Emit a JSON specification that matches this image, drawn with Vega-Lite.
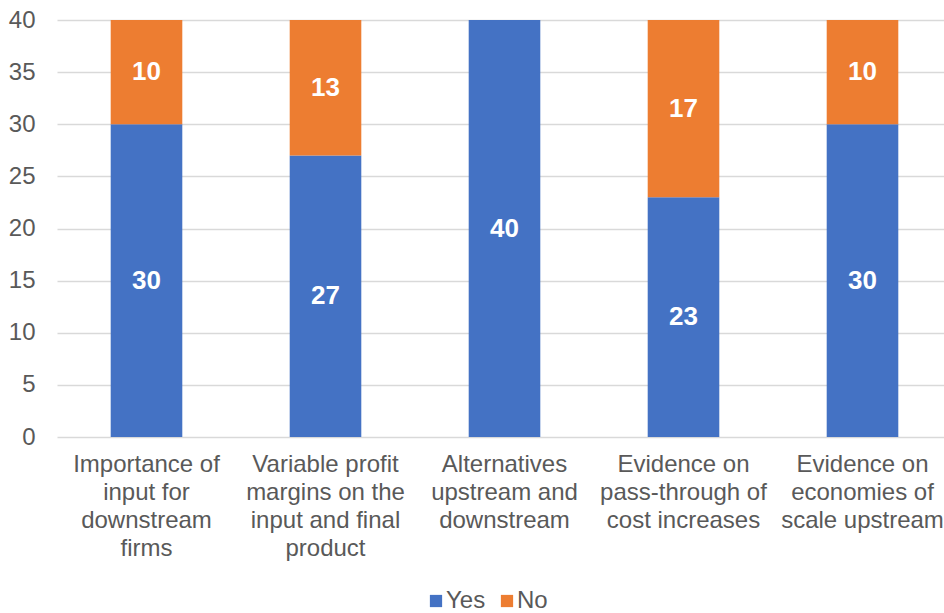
{
  "$schema": "https://vega.github.io/schema/vega-lite/v6.json",
  "width": 887,
  "height": 417,
  "autosize": {"type": "none"},
  "padding": {"left": 57, "top": 20, "right": 0, "bottom": 176},
  "background": "white",
  "config": {
    "view": {"stroke": null},
    "font": "Liberation Sans"
  },
  "data": {
    "values": [
      {"category": "Importance of input for downstream firms", "series": "Yes", "value": 30},
      {"category": "Importance of input for downstream firms", "series": "No", "value": 10},
      {"category": "Variable profit margins on the input and final product", "series": "Yes", "value": 27},
      {"category": "Variable profit margins on the input and final product", "series": "No", "value": 13},
      {"category": "Alternatives upstream and downstream", "series": "Yes", "value": 40},
      {"category": "Alternatives upstream and downstream", "series": "No", "value": 0},
      {"category": "Evidence on pass-through of cost increases", "series": "Yes", "value": 23},
      {"category": "Evidence on pass-through of cost increases", "series": "No", "value": 17},
      {"category": "Evidence on economies of scale upstream", "series": "Yes", "value": 30},
      {"category": "Evidence on economies of scale upstream", "series": "No", "value": 10}
    ]
  },
  "transform": [
    {"stack": "value", "groupby": ["category"], "sort": [{"field": "series", "order": "descending"}], "as": ["v0", "v1"]},
    {"calculate": "(datum.v0 + datum.v1) / 2", "as": "vmid"}
  ],
  "encoding": {
    "x": {
      "field": "category",
      "type": "nominal",
      "sort": null,
      "scale": {"range": [0, 895], "paddingInner": 0.6, "paddingOuter": 0.3},
      "axis": {
        "title": null,
        "labelAngle": 0,
        "domain": false,
        "ticks": false,
        "labelFontSize": 24,
        "labelColor": "#595959",
        "labelBaseline": "top",
        "labelPadding": 15,
        "labelLineHeight": 28,
        "labelLimit": 300,
        "labelExpr": "datum.value == 'Importance of input for downstream firms' ? ['Importance of','input for','downstream','firms'] : datum.value == 'Variable profit margins on the input and final product' ? ['Variable profit','margins on the','input and final','product'] : datum.value == 'Alternatives upstream and downstream' ? ['Alternatives','upstream and','downstream'] : datum.value == 'Evidence on pass-through of cost increases' ? ['Evidence on','pass-through of','cost increases'] : ['Evidence on','economies of','scale upstream']"
      }
    }
  },
  "layer": [
    {
      "mark": {"type": "bar"},
      "encoding": {
        "y": {
          "field": "v0",
          "type": "quantitative",
          "scale": {"domain": [0, 40], "nice": false},
          "axis": {
            "title": null,
            "values": [0, 5, 10, 15, 20, 25, 30, 35, 40],
            "domain": false,
            "ticks": false,
            "labelFontSize": 24,
            "labelColor": "#595959",
            "labelPadding": 22,
            "gridColor": "#D9D9D9",
            "gridWidth": 1.3
          }
        },
        "y2": {"field": "v1"},
        "color": {
          "field": "series",
          "type": "nominal",
          "scale": {"domain": ["Yes", "No"], "range": ["#4472C4", "#ED7D31"]},
          "legend": {
            "title": null,
            "orient": "none",
            "direction": "horizontal",
            "legendX": 367,
            "legendY": 569,
            "symbolType": "square",
            "symbolSize": 150,
            "symbolStrokeWidth": 0,
            "symbolOpacity": 1,
            "labelFontSize": 24,
            "labelColor": "#595959",
            "labelOffset": -2,
            "columnPadding": 9
          }
        }
      }
    },
    {
      "transform": [{"filter": "datum.value > 0"}],
      "mark": {"type": "text", "color": "white", "fontSize": 26, "fontWeight": "bold", "baseline": "middle", "align": "center"},
      "encoding": {
        "y": {"field": "vmid", "type": "quantitative"},
        "text": {"field": "value", "type": "quantitative"}
      }
    }
  ]
}
